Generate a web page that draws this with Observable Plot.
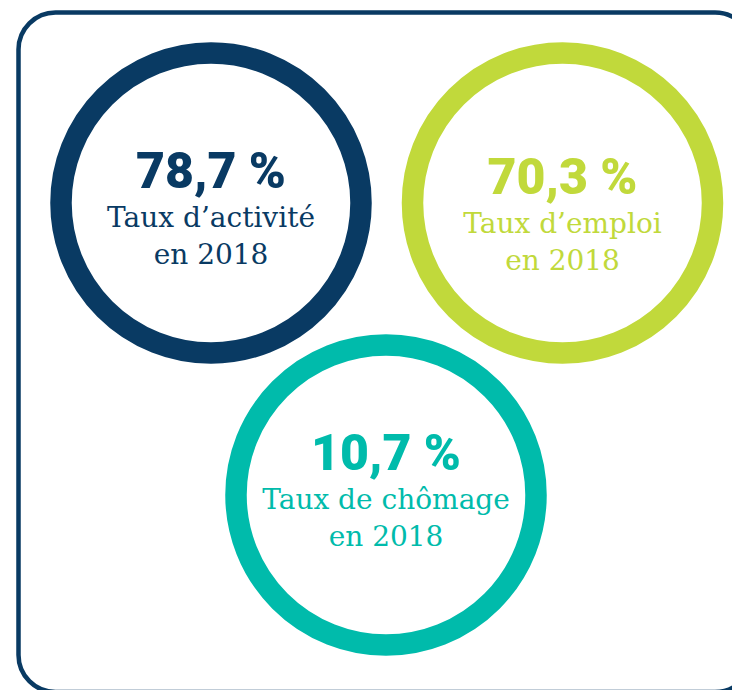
<!DOCTYPE html>
<html>
<head>
<meta charset="utf-8">
<script src="https://cdn.jsdelivr.net/npm/d3@7"></script>
<script src="https://cdn.jsdelivr.net/npm/@observablehq/plot@0.6"></script>
<style>
  html, body { margin: 0; padding: 0; background: #fff; }
  #chart svg { display: block; }
</style>
</head>
<body>
<div id="chart"></div>
<script>
// Data
const labels = ["Taux d’activité", "Taux d’emploi", "Taux de chômage"];
const values = [78.7, 70.3, 10.7];
const years = [2018, 2018, 2018];
const colors = ["#093a63", "#c1d93b", "#00bbab"];

// Layout (pixel positions of the infographic)
const centerX = [210.5, 562, 385.5];
const centerY = [202.5, 202.5, 494.5];
const textBaseline = [187, 193, 469];

const rows = labels.map((label, i) => ({
  label,
  value: values[i],
  year: years[i],
  color: colors[i],
  cx: centerX[i],
  cy: centerY[i],
  ty: textBaseline[i]
}));

const fmt = v => v.toFixed(1).replace(".", ",") + "\u00a0%";
const frameBox = [{x1: 18.5, x2: 752, y1: 12.5, y2: 692}];
const serif = "'DejaVu Serif', serif";

const chart = Plot.plot({
  width: 732,
  height: 690,
  margin: 0,
  x: {type: "identity", axis: null},
  y: {type: "identity", axis: null},
  color: {type: "identity"},
  marks: [
    Plot.rect(frameBox, {x1: "x1", x2: "x2", y1: "y1", y2: "y2", rx: 37, ry: 37, fill: "none", stroke: "#093a63", strokeWidth: 4.5}),
    Plot.dot(rows, {x: "cx", y: "cy", r: 150, fill: "white", stroke: "color", strokeWidth: 21.5}),
    Plot.text(rows, {x: "cx", y: "ty", text: d => fmt(d.value), fill: "color", lineAnchor: "bottom", fontSize: 50, fontWeight: 900, fontFamily: "Roboto, 'DejaVu Sans', sans-serif"}),
    Plot.text(rows, {x: "cx", y: "ty", dy: 39, text: "label", fill: "color", lineAnchor: "bottom", fontSize: 28, fontFamily: serif}),
    Plot.text(rows, {x: "cx", y: "ty", dy: 76, text: d => "en " + d.year, fill: "color", lineAnchor: "bottom", fontSize: 28, fontFamily: serif})
  ]
});

document.getElementById("chart").appendChild(chart);
</script>
</body>
</html>
